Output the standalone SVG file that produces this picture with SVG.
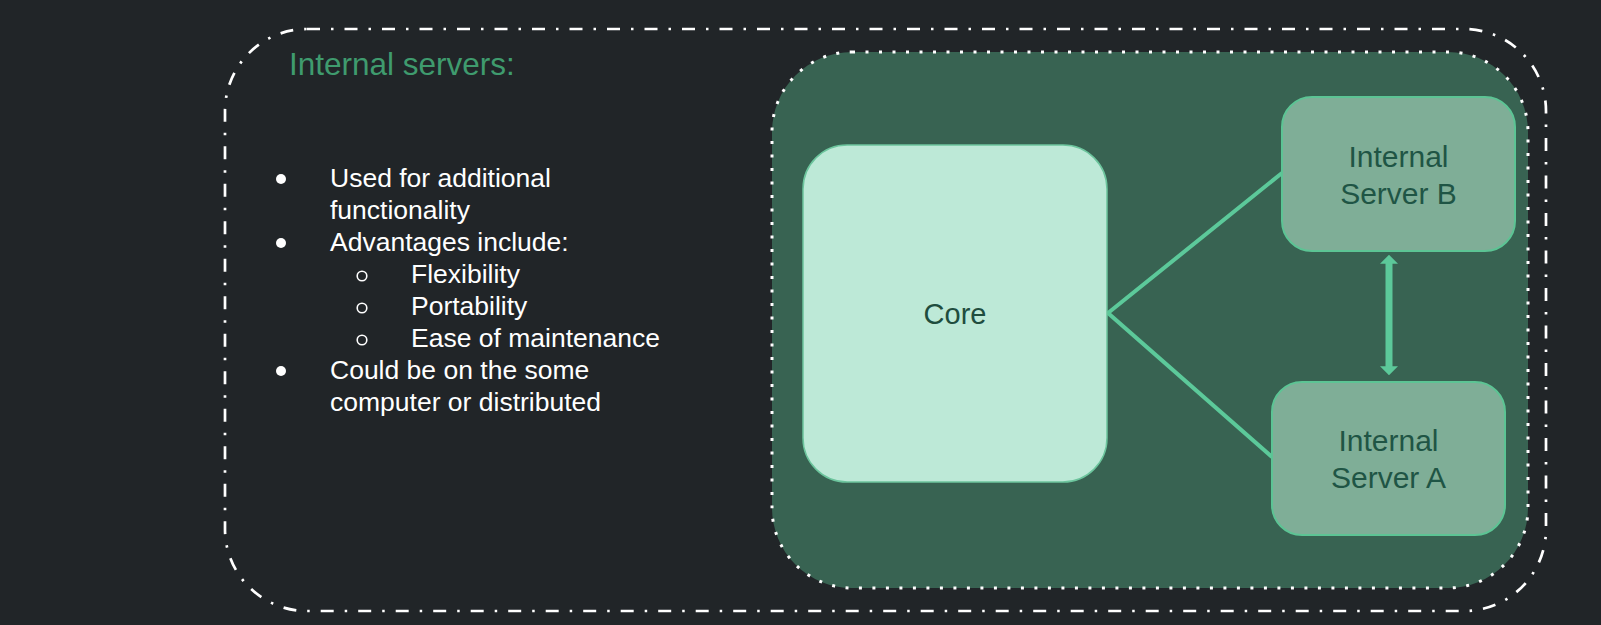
<svg xmlns="http://www.w3.org/2000/svg" width="1601" height="625" viewBox="0 0 1601 625">
<defs>
<style>
.t{font-family:"Liberation Sans",Arial,sans-serif}
.bul{fill:#ffffff;font-size:26.5px}
.srv{fill:#7fae97;stroke:#5cc494;stroke-width:2}
.srvt{fill:#1f5545;font-size:30px;text-anchor:middle}
.conn{stroke:#5cc99a;stroke-width:4;fill:none}
.arrow{stroke:#5cc99a;stroke-width:7;fill:none}
</style>
<marker id="ah" viewBox="0 0 5 10" refX="1" refY="5" markerWidth="1.3" markerHeight="2.6" orient="auto-start-reverse" markerUnits="strokeWidth">
<path d="M0,0 L5,5 L0,10 z" fill="#5cc99a"/>
</marker>
</defs>
<rect width="1601" height="625" fill="#212528"/>
<g id="outer">
<rect x="225" y="29" width="1321" height="582" rx="82" ry="82" fill="none" stroke="#ffffff" stroke-width="2.7" stroke-dasharray="13 11 2.5 11"/>
</g>
<g id="title">
<text class="t" x="289" y="75" font-size="31.5" fill="#3f9b6e">Internal servers:</text>
</g>
<g id="bullets">
<circle cx="281" cy="179" r="5" fill="#ffffff"/>
<circle cx="281" cy="243" r="5" fill="#ffffff"/>
<circle cx="281" cy="371" r="5" fill="#ffffff"/>
<circle cx="362" cy="276" r="4.8" fill="none" stroke="#ffffff" stroke-width="1.6"/>
<circle cx="362" cy="308" r="4.8" fill="none" stroke="#ffffff" stroke-width="1.6"/>
<circle cx="362" cy="340" r="4.8" fill="none" stroke="#ffffff" stroke-width="1.6"/>
<text class="t bul" x="330" y="187">Used for additional</text>
<text class="t bul" x="330" y="219">functionality</text>
<text class="t bul" x="330" y="251">Advantages include:</text>
<text class="t bul" x="411" y="283">Flexibility</text>
<text class="t bul" x="411" y="315">Portability</text>
<text class="t bul" x="411" y="347">Ease of maintenance</text>
<text class="t bul" x="330" y="379">Could be on the some</text>
<text class="t bul" x="330" y="411">computer or distributed</text>
</g>
<g id="container">
<rect x="772" y="52" width="756" height="536" rx="80" ry="80" fill="#386352" stroke="#ffffff" stroke-width="3" stroke-dasharray="3 10.5"/>
</g>
<g id="connectors">
<polyline class="conn" points="1282,173 1108,313 1272,457"/>
<line class="arrow" x1="1389" y1="262" x2="1389" y2="368" marker-start="url(#ah)" marker-end="url(#ah)"/>
</g>
<g id="core">
<rect x="803" y="145" width="304" height="337" rx="44" ry="44" fill="#bde9d7" stroke="#6cc59d" stroke-width="1.5"/>
<text class="t" x="955" y="324" font-size="29" fill="#1f4d3e" text-anchor="middle">Core</text>
</g>
<g id="serverB">
<rect class="srv" x="1282" y="97" width="233" height="154" rx="30" ry="30"/>
<text class="t srvt" x="1398.5" y="167">Internal</text>
<text class="t srvt" x="1398.5" y="204">Server B</text>
</g>
<g id="serverA">
<rect class="srv" x="1272" y="382" width="233" height="153" rx="30" ry="30"/>
<text class="t srvt" x="1388.5" y="451">Internal</text>
<text class="t srvt" x="1388.5" y="488">Server A</text>
</g>
</svg>
